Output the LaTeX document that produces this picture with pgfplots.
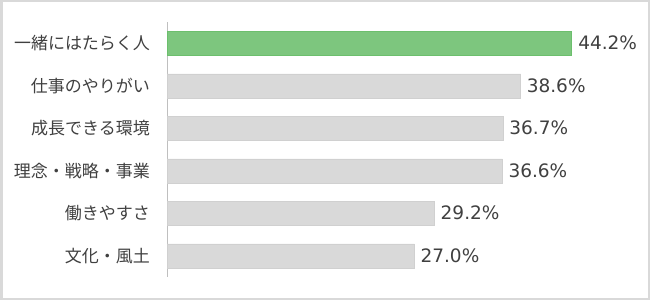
\documentclass[border=0pt]{standalone}
\usepackage{pgfplots}
\pgfplotsset{compat=1.18}
\usepackage{fontspec}
\setmainfont{Noto Sans CJK JP}
\newfontfamily\numfont{DejaVu Sans}
\definecolor{barGreen}{HTML}{7DC67E}
\definecolor{barGreenEdge}{HTML}{6CBF6D}
\definecolor{barGray}{HTML}{D9D9D9}
\definecolor{barGrayEdge}{HTML}{D0D0D0}
\definecolor{axisGray}{HTML}{BFBFBF}
\definecolor{frameGray}{HTML}{D9D9D9}
\definecolor{txt}{HTML}{404040}
\begin{document}
\begin{tikzpicture}[x=1pt,y=1pt]
\useasboundingbox (0,0) rectangle (650,300);
\fill[white] (0,0) rectangle (650,300);
\draw[frameGray, line width=2.5pt] (1.25,1.25) rectangle (648.75,298.75);
\begin{axis}[
  at={(167pt,23pt)}, anchor=south west,
  scale only axis,
  width=458pt, height=255pt,
  xmin=0, xmax=50,
  ymin=-0.5, ymax=5.5,
  y dir=reverse,
  xbar, bar width=24pt, bar shift=0pt,
  axis x line=none,
  axis y line*=left,
  y axis line style={axisGray, line width=0.8pt},
  ytick={0,1,2,3,4,5},
  yticklabels={一緒にはたらく人,仕事のやりがい,成長できる環境,理念・戦略・事業,働きやすさ,文化・風土},
  major tick length=0pt,
  yticklabel style={font=\fontsize{17}{19}\selectfont, text=txt, inner sep=0pt, xshift=-17pt},
  point meta=x,
  nodes near coords={\pgfmathprintnumber[fixed,fixed zerofill,precision=1,assume math mode=true]{\pgfplotspointmeta}\%},
  nodes near coords style={font=\numfont\fontsize{18.5}{21}\selectfont, text=txt, anchor=west, inner sep=0pt, xshift=6pt},
  clip=false,
]
\addplot[fill=barGreen, draw=barGreenEdge, line width=0.8pt] coordinates {(44.2,0)};
\addplot[fill=barGray, draw=barGrayEdge, line width=0.5pt] coordinates {(38.6,1) (36.7,2) (36.6,3) (29.2,4) (27.0,5)};
\end{axis}
\end{tikzpicture}
\end{document}
